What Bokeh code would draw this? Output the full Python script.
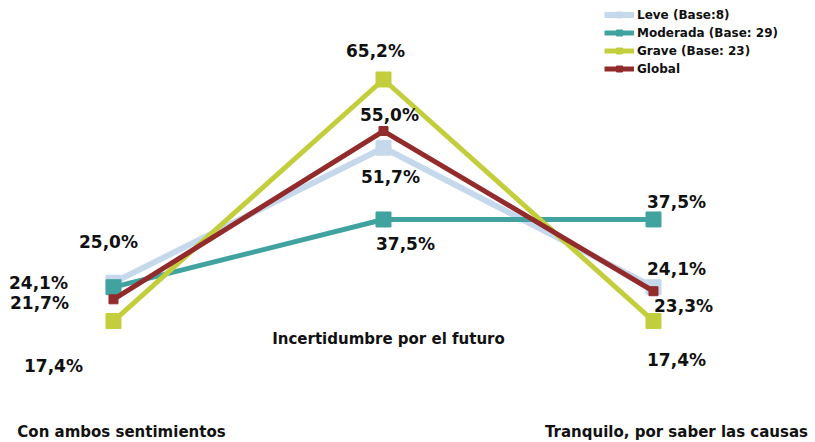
from bokeh.plotting import figure
from bokeh.models import ColumnDataSource, Range1d, Legend, LegendItem, Label
from bokeh.embed import file_html
from bokeh.resources import INLINE

categories = ["Con ambos sentimientos", "Incertidumbre por el futuro", "Tranquilo, por saber las causas"]
series_names = ["Leve (Base:8)", "Moderada (Base: 29)", "Grave (Base: 23)", "Global"]
leve = [25.0, 51.7, 24.1]
moderada = [24.1, 37.5, 37.5]
grave = [17.4, 65.2, 17.4]
global_ = [21.7, 55.0, 23.3]

colors = ["#C6D9EC", "#41A39F", "#C3CE3D", "#922B2B"]
line_widths = [6, 5, 5, 5]
marker_sizes = [15, 15, 15, 9]
# label offsets (px) per series per category (dx, dy downward)
offsets = [
    [(-5, -41), (7, 29), (23, -18)],
    [(-75, -4), (22, 25), (23, -17)],
    [(-60, 45), (-8, -28), (23, 39)],
    [(-74, 4), (6, -16), (30, 15)],
]

W, H = 815, 442
YMAX = 80.83
p = figure(width=W, height=H, output_backend="svg", toolbar_location=None,
           x_range=Range1d(-0.4185, 2.600), y_range=Range1d(-6.63, YMAX),
           min_border=0, outline_line_color=None)
p.xaxis.visible = False
p.yaxis.visible = False
p.grid.visible = False

xs = list(range(len(categories)))
items = []
for name, vals, col, lw, ms in zip(series_names, [leve, moderada, grave, global_],
                                   colors, line_widths, marker_sizes):
    src = ColumnDataSource(dict(x=xs, y=vals))
    r1 = p.line("x", "y", source=src, line_color=col, line_width=lw)
    r2 = p.scatter("x", "y", source=src, marker="square", size=ms,
                   fill_color=col, line_color=col)
    items.append(LegendItem(label=name, renderers=[r1, r2]))

for vals, offs in zip([leve, moderada, grave, global_], offsets):
    for i, v in enumerate(vals):
        p.add_layout(Label(x=xs[i], y=v, x_offset=offs[i][0], y_offset=-offs[i][1],
                           text=f"{v:.1f}%".replace(".", ","),
                           text_font="DejaVu Sans", text_font_style="bold",
                           text_font_size="17px", text_color="#111111",
                           text_align="center", text_baseline="middle"))

# category labels (staggered)
cat_offsets = [(8, 431), (5, 338), (23, 431)]
for i, c in enumerate(categories):
    p.add_layout(Label(x=xs[i], y=YMAX, x_offset=cat_offsets[i][0], y_offset=-cat_offsets[i][1],
                       text=c, text_font="DejaVu Sans", text_font_style="bold",
                       text_font_size="15px", text_color="#111111",
                       text_align="center", text_baseline="middle"))

legend = Legend(items=items, location=(604, 366), padding=0, spacing=3,
                label_height=15, glyph_height=15, glyph_width=30, label_standoff=3,
                label_text_font="DejaVu Sans", label_text_font_style="bold",
                label_text_font_size="12px", label_text_color="#111111",
                border_line_color=None, background_fill_alpha=0)
p.add_layout(legend)

open("out.html", "w").write(file_html(p, INLINE))
